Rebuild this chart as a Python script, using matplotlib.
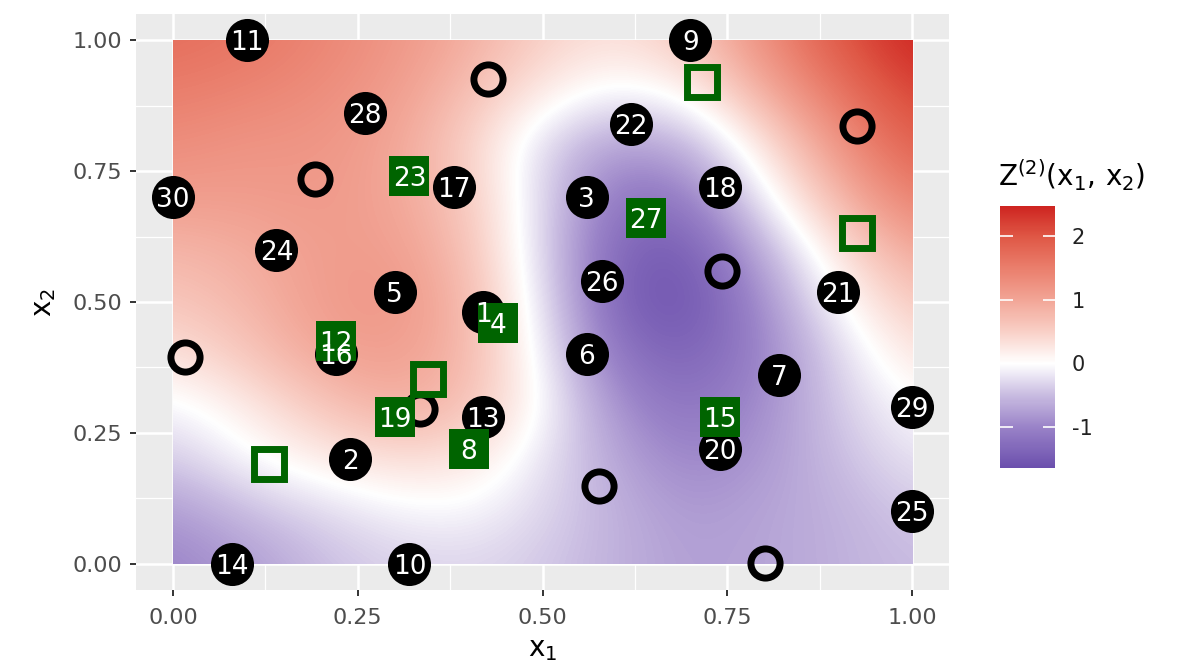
import numpy as np
import matplotlib
matplotlib.use("Agg")
import matplotlib.pyplot as plt
from matplotlib.colors import LinearSegmentedColormap, Normalize

plt.rcParams["axes.unicode_minus"] = False

# surface estimate on a regular grid (rows: x2 = 0.0 .. 1.0, cols: x1 = 0.0 .. 1.0)
grid_x1 = np.linspace(0, 1, 11)
grid_x2 = np.linspace(0, 1, 11)
z_rows = [
    [-1.00, -0.80, -0.50, -0.35, -0.30, -0.40, -0.60, -0.75, -0.70, -0.60, -0.50],  # 0.0
    [-0.80, -0.50, -0.30, -0.10, -0.05, -0.30, -0.60, -0.80, -0.70, -0.60, -0.40],  # 0.1
    [-0.40, -0.05, 0.20, 0.35, 0.30, -0.20, -0.70, -1.00, -0.80, -0.50, -0.20],     # 0.2
    [-0.10, 0.20, 0.60, 0.90, 0.70, 0.00, -0.90, -1.20, -0.90, -0.40, 0.00],        # 0.3
    [0.30, 0.60, 1.00, 1.10, 0.80, -0.10, -1.20, -1.40, -1.00, -0.30, 0.30],        # 0.4
    [0.60, 0.80, 1.10, 1.20, 0.80, -0.20, -1.45, -1.60, -0.90, 0.00, 0.60],         # 0.5
    [0.80, 0.90, 1.10, 1.10, 0.70, -0.30, -1.40, -1.50, -0.60, 0.30, 1.00],         # 0.6
    [1.10, 1.10, 1.15, 1.00, 0.60, -0.30, -1.20, -1.10, -0.10, 0.80, 1.50],         # 0.7
    [1.30, 1.20, 1.20, 1.00, 0.50, -0.30, -0.80, -0.60, 0.30, 1.20, 1.90],          # 0.8
    [1.50, 1.40, 1.30, 1.10, 0.70, 0.20, -0.10, 0.10, 0.90, 1.60, 2.20],            # 0.9
    [1.70, 1.60, 1.40, 1.20, 0.90, 0.50, 0.30, 0.60, 1.30, 2.00, 2.47],             # 1.0
]
z_min, z_max = -1.64, 2.47

# labelled design points (black discs)
circ_id = [1, 2, 3, 5, 6, 7, 9, 10, 11, 13, 14, 16, 17, 18, 20, 21, 22, 24, 25, 26, 28, 29, 30]
circ_x1 = [0.42, 0.24, 0.56, 0.30, 0.56, 0.82, 0.70, 0.32, 0.10, 0.42, 0.08, 0.22, 0.38,
           0.74, 0.74, 0.90, 0.62, 0.14, 1.00, 0.58, 0.26, 1.00, 0.00]
circ_x2 = [0.48, 0.20, 0.70, 0.52, 0.40, 0.36, 1.00, 0.00, 1.00, 0.28, 0.00, 0.40, 0.72,
           0.72, 0.22, 0.52, 0.84, 0.60, 0.10, 0.54, 0.86, 0.30, 0.70]

# labelled points (green squares)
sq_id = [4, 8, 12, 15, 19, 23, 27]
sq_x1 = [0.44, 0.40, 0.22, 0.74, 0.30, 0.32, 0.64]
sq_x2 = [0.46, 0.22, 0.425, 0.28, 0.28, 0.74, 0.66]

# unlabelled points
ring_x1 = [0.426, 0.926, 0.192, 0.016, 0.743, 0.576, 0.801, 0.334]
ring_x2 = [0.925, 0.837, 0.734, 0.395, 0.559, 0.148, 0.002, 0.295]
box_x1 = [0.716, 0.926, 0.345, 0.130]
box_x2 = [0.920, 0.632, 0.352, 0.190]

ticks = [0.0, 0.25, 0.5, 0.75, 1.0]
tick_labels = ["0.00", "0.25", "0.50", "0.75", "1.00"]
cbar_ticks = [-1, 0, 1, 2]

# diverging palette, white at zero
stops = [(-1.64, "#6B4FAD"), (-1.0, "#9A83C8"), (-0.5, "#C9BCE1"), (0.0, "#FFFFFF"),
         (0.5, "#F9D0C7"), (1.0, "#F2A596"), (1.5, "#EA7E6C"), (2.0, "#DF5745"),
         (2.47, "#CE2420")]
cmap = LinearSegmentedColormap.from_list(
    "z2", [((v - z_min) / (z_max - z_min), c) for v, c in stops])
norm = Normalize(z_min, z_max)

fig = plt.figure(figsize=(11.85, 6.72), dpi=100)
ax = fig.add_axes([136 / 1185, 82 / 672, 813 / 1185, 576 / 672])
ax.set_facecolor("#EBEBEB")
for s in ax.spines.values():
    s.set_visible(False)

ax.set_xlim(-0.05, 1.05)
ax.set_ylim(-0.05, 1.05)
ax.set_xticks(ticks)
ax.set_yticks(ticks)
ax.set_xticks([0.125, 0.375, 0.625, 0.875], minor=True)
ax.set_yticks([0.125, 0.375, 0.625, 0.875], minor=True)
ax.set_xticklabels(tick_labels)
ax.set_yticklabels(tick_labels)
ax.grid(which="major", color="white", lw=1.8)
ax.grid(which="minor", color="white", lw=0.9)
ax.set_axisbelow(True)
ax.tick_params(which="major", length=4, width=1.4, color="#333333",
               labelcolor="#4D4D4D", labelsize=16)
ax.tick_params(axis="x", which="major", pad=9)
ax.tick_params(axis="y", which="major", pad=6)
ax.tick_params(which="minor", length=0)

z = np.array(z_rows)
dx = grid_x1[1] - grid_x1[0]
im = ax.imshow(z, origin="lower", cmap=cmap, norm=norm, interpolation="bicubic",
               interpolation_stage="data", aspect="auto", zorder=1,
               extent=(grid_x1[0] - dx / 2, grid_x1[-1] + dx / 2,
                       grid_x2[0] - dx / 2, grid_x2[-1] + dx / 2))
clip = plt.Rectangle((0, 0), 1, 1, transform=ax.transData)
im.set_clip_path(clip)

ax.plot(ring_x1, ring_x2, "o", ms=21, mfc="none", mec="black", mew=5, zorder=2)
ax.plot(circ_x1, circ_x2, "o", ms=31, mfc="black", mec="black", mew=0, zorder=3)
ax.plot(box_x1, box_x2, "s", ms=21, mfc="none", mec="#006400", mew=5, zorder=4)
ax.plot(sq_x1, sq_x2, "s", ms=29, mfc="#006400", mec="#006400", mew=0, zorder=4)

for i, a, b in zip(circ_id + sq_id, circ_x1 + sq_x1, circ_x2 + sq_x2):
    ax.text(a, b, str(i), color="white", fontsize=19, ha="center", va="center_baseline",
            zorder=5)

ax.set_xlabel(r"$\mathregular{x_1}$", fontsize=20, labelpad=5)
ax.set_ylabel(r"$\mathregular{x_2}$", fontsize=20, labelpad=10)

# colour bar
cax = fig.add_axes([1000 / 1185, (672 - 468) / 672, 55 / 1185, 262 / 672])
cb = fig.colorbar(im, cax=cax, ticks=cbar_ticks)
cb.outline.set_visible(False)
cax.tick_params(direction="in", length=9, width=1.2, color="white", left=True, right=True,
                labelsize=15, labelcolor="#222222", pad=12)
cax.set_title(r"$\mathregular{Z^{(2)}(x_1,\, x_2)}$", fontsize=20, loc="left", pad=14, x=-0.03)

fig.savefig("out.png", dpi=100)
